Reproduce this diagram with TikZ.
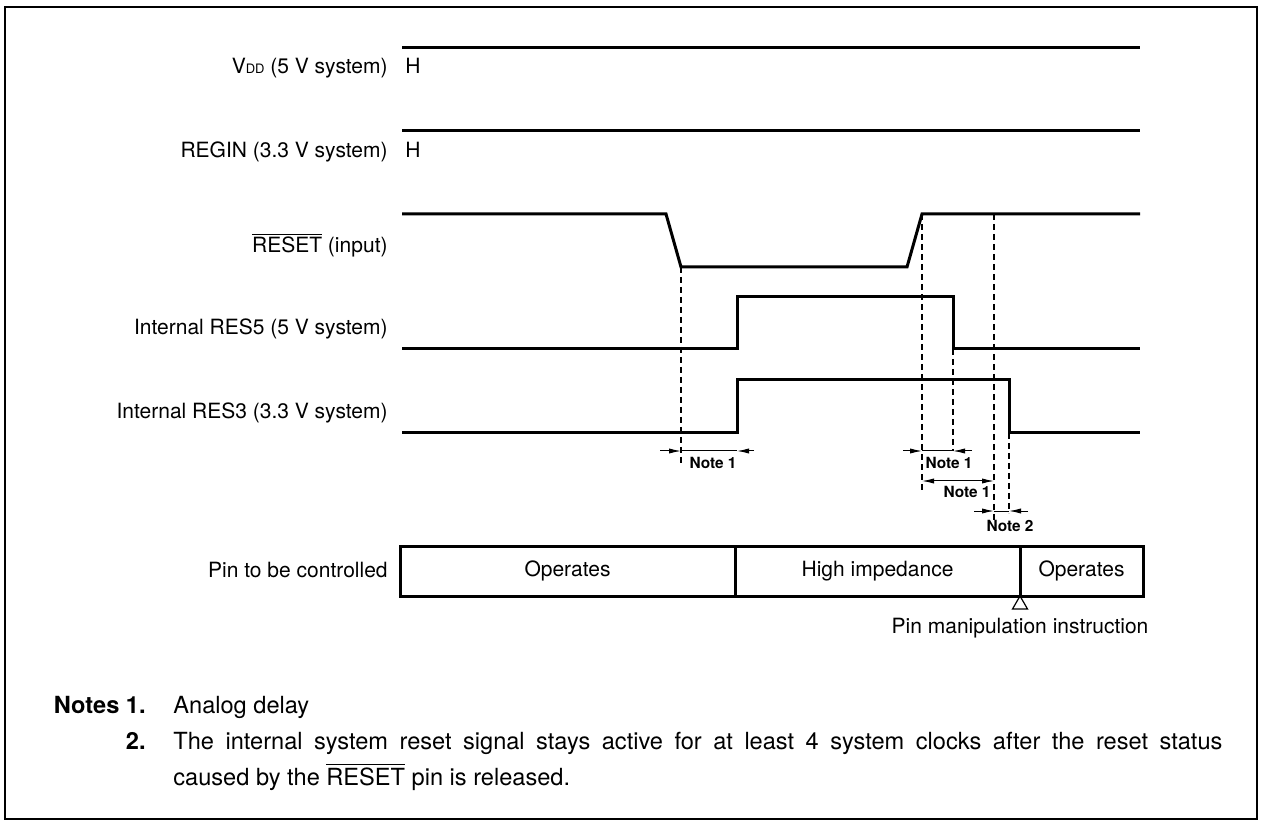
\documentclass[tikz,border=0pt]{standalone}
\usepackage{fontspec}
\setmainfont{TeX Gyre Heros}
\usetikzlibrary{arrows.meta,positioning}

\begin{document}
\begin{tikzpicture}[x=0.5pt,y=-0.5pt,
  sig/.style={line width=1.5pt,line join=miter},
  guide/.style={line width=0.6pt,dash pattern=on 3pt off 2pt},
  dim/.style={line width=0.5pt},
  arr/.style={-{Latex[length=6pt,width=2.6pt]},line width=0.5pt},
  darr/.style={{Latex[length=6pt,width=2.6pt]}-{Latex[length=6pt,width=2.6pt]},line width=0.5pt},
  lbl/.style={font=\fontsize{10.5}{12}\selectfont,inner sep=0pt},
  note/.style={font=\fontsize{7.7}{9}\selectfont\bfseries,inner sep=0pt},
  pinbox/.style={draw,line width=1.5pt,minimum height=25pt,inner sep=0pt,outer sep=0pt,font=\fontsize{10.5}{12}\selectfont},
  txt/.style={font=\fontsize{11.8}{14}\selectfont,inner sep=0pt}
]
\useasboundingbox (0,0) rectangle (1261,822);
\draw[line width=1pt] (5,7) rectangle (1257,819);

% Signal names
\node[lbl,anchor=base east] (vdd) at (388,74) {V{\fontsize{6.5}{7}\selectfont DD} (5 V system)};
\node[lbl,anchor=base west] (vddH) at ([xshift=8.5pt]vdd.base east) {H};
\node[lbl,anchor=base east] (regin) at (388,158) {REGIN (3.3 V system)};
\node[lbl,anchor=base west] (reginH) at ([xshift=8.5pt]regin.base east) {H};
\node[lbl,anchor=base east] (reset) at (388,253) {$\overline{\mbox{RESET}}$ (input)};
\node[lbl,anchor=base east] (res5) at (388,335) {Internal RES5 (5 V system)};
\node[lbl,anchor=base east] (res3) at (388,419) {Internal RES3 (3.3 V system)};
\node[lbl,anchor=base east] (pin) at (388,577) {Pin to be controlled};

% Waveforms
\draw[sig] (402,48) -- (1140,48);
\draw[sig] (402,131) -- (1140,131);
\draw[sig] (402,214) -- (666,214) -- (681,267) coordinate (rstF) -- (907,267) -- (922,214) coordinate (rstR) -- (1140,214);
\draw[sig] (402,349) -- (737,349) -- (737,297) -- (953,297) -- (953,349) coordinate (r5F) -- (1140,349);
\draw[sig] (402,433) -- (737,433) coordinate (r3R) -- (737,380) -- (1009,380) -- (1009,433) coordinate (r3F) -- (1140,433);
\coordinate (rstS) at (994,214);

% Timing guides
\draw[guide] (rstF) -- ++(0,196);
\draw[guide] (rstR) -- ++(0,279);
\draw[guide] (r5F) -- ++(0,102);
\draw[guide] (rstS) -- ++(0,306);
\draw[guide] (r3F) -- ++(0,80);

% Note 1 (RESET fall)
\coordinate (d1a) at (rstF |- 0,451);
\coordinate (d1b) at (r3R |- 0,451);
\draw[dim] (d1a) -- (d1b);
\draw[arr] ([xshift=-10.5pt]d1a) -- (d1a);
\draw[arr] ([xshift=8.5pt]d1b) -- (d1b);
\node[note] (note1a) at (713,463) {Note 1};

% Note 1 (RESET rise to RES5)
\coordinate (d2a) at (rstR |- 0,451);
\coordinate (d2b) at (r5F |- 0,451);
\draw[dim] (d2a) -- (d2b);
\draw[arr] ([xshift=-9.5pt]d2a) -- (d2a);
\draw[arr] ([xshift=9.5pt]d2b) -- (d2b);
\node[note] (note1b) at (949,463) {Note 1};

% Note 1 (RESET rise to release)
\coordinate (d3a) at (rstR |- 0,481);
\coordinate (d3b) at (rstS |- 0,481);
\draw[darr] (d3a) -- (d3b);
\node[note] (note1c) at (967,492) {Note 1};

% Note 2
\coordinate (d4a) at (rstS |- 0,511);
\coordinate (d4b) at (r3F |- 0,511);
\draw[dim] (d4a) -- (d4b);
\draw[arr] ([xshift=-10pt]d4a) -- (d4a);
\draw[arr] ([xshift=9.5pt]d4b) -- (d4b);
\node[note] (note2) at (1010,526) {Note 2};

% Pin states
\node[pinbox,minimum width=167.5pt,anchor=north west] (op1) at (400,546) {Operates};
\node[pinbox,minimum width=142.5pt,right=0pt of op1] (hiz) {High impedance};
\node[pinbox,minimum width=61.5pt,right=0pt of hiz] (op2) {Operates};
\draw[line width=0.6pt] (op2.south west) -- ++(-7.5,13) -- ++(15,0) -- cycle;
\node[lbl,anchor=base] (instr) at (1020,633) {Pin manipulation instruction};

% Notes
\node[txt,font=\fontsize{11.8}{14}\selectfont\bfseries,anchor=base east] (notes1) at (146,713) {Notes 1.};
\node[txt,anchor=base west] (analog) at (173,713) {Analog delay};
\node[txt,font=\fontsize{11.8}{14}\selectfont\bfseries,anchor=base east] (notes2) at (146,749) {2.};
\node[txt,anchor=base west] (line1) at (173,749) {\hbox to 524.5pt{The internal system reset signal stays active for at least 4 system clocks after the reset status}};
\node[txt,anchor=base west] (line2) at (173,785) {caused by the $\overline{\mbox{RESET}}$ pin is released.};

\end{tikzpicture}
\end{document}
